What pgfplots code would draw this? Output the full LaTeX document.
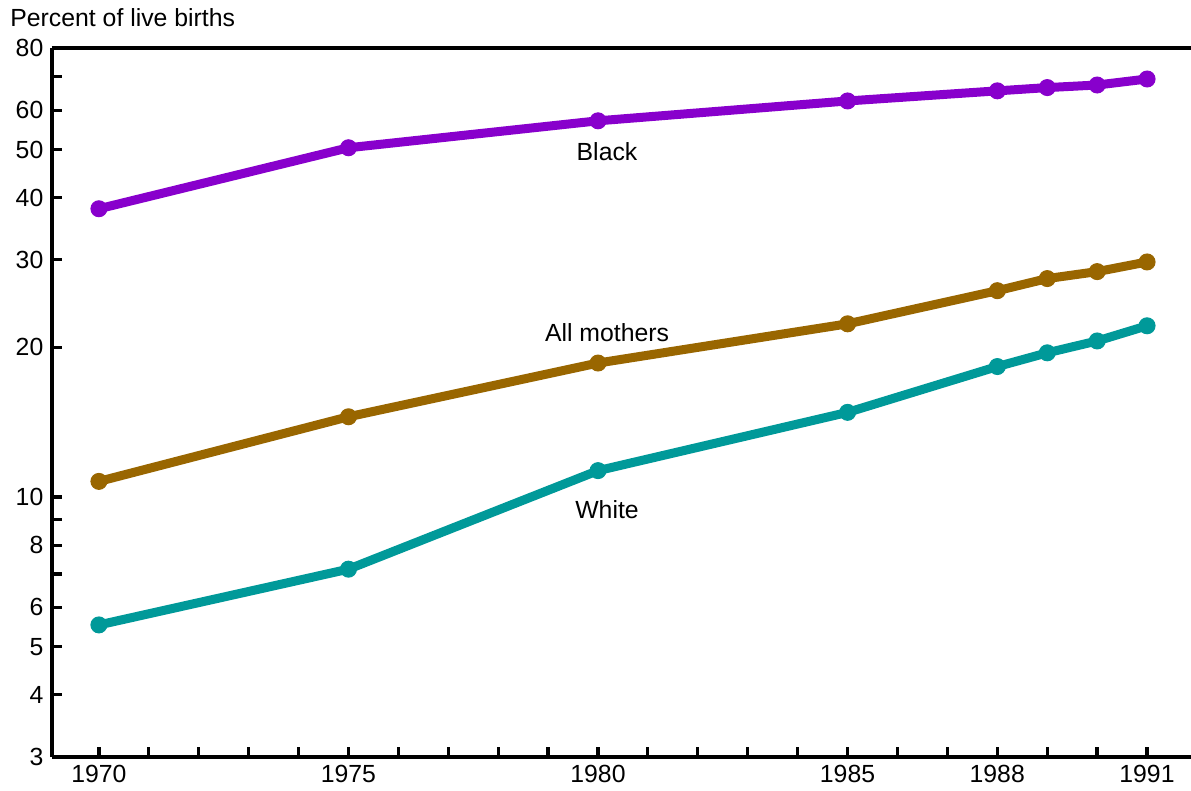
\documentclass[border=0pt]{standalone}
\usepackage{fontspec}
\setmainfont{Liberation Sans}
\usepackage{pgfplots}
\pgfplotsset{compat=1.18}
\definecolor{cblack}{HTML}{8800CC}
\definecolor{call}{HTML}{996600}
\definecolor{cwhite}{HTML}{009999}
\begin{document}
\fontsize{12.4}{15}\selectfont
\begin{tikzpicture}
\useasboundingbox (-26pt,-17pt) rectangle (569.5pt,378.5pt);
\begin{axis}[
  at={(0,0)}, anchor=south west,
  scale only axis, width=569.5pt, height=354.5pt,
  ymode=log, ymin=3, ymax=80,
  xmin=1969.06, xmax=1991.88,
  axis lines*=left,
  axis line style={line width=1.6pt},
  tick align=inside,
  major tick length=5pt,
  tick style={line width=1.6pt, black},
  xtick={1970,...,1991},
  xticklabels={1970,,,,,1975,,,,,1980,,,,,1985,,,1988,,,1991},
  ytick={3,4,5,6,7,8,9,10,20,30,40,50,60,70,80},
  yticklabels={3,4,5,6,,8,,10,20,30,40,50,60,,80},
  minor ytick={},
  log basis y=10,
  xticklabel style={font=\fontsize{12.4}{15}\selectfont},
  yticklabel style={font=\fontsize{12.4}{15}\selectfont},
  every axis plot/.append style={line width=4.5pt, mark=*, mark size=4pt, mark options={line width=0.5pt}},
  clip=false,
]
\draw[line width=1.6pt] (rel axis cs:0,1) -- (rel axis cs:1,1);
\addplot[cblack] coordinates {
 (1970,38.0) (1975,50.4) (1980,57.1) (1985,62.6) (1988,65.6) (1989,66.6) (1990,67.4) (1991,69.3)};
\addplot[call] coordinates {
 (1970,10.75) (1975,14.5) (1980,18.6) (1985,22.3) (1988,26.0) (1989,27.5) (1990,28.4) (1991,29.7)};
\addplot[cwhite] coordinates {
 (1970,5.53) (1975,7.16) (1980,11.3) (1985,14.8) (1988,18.3) (1989,19.5) (1990,20.6) (1991,22.1)};
\node at (axis cs:1980.18,49.4) {Black};
\node at (axis cs:1980.18,21.4) {All mothers};
\node at (axis cs:1980.18,9.45) {White};
\end{axis}
\node[anchor=west, inner sep=0pt] at (-21pt,369.5pt) {Percent of live births};
\end{tikzpicture}
\end{document}
